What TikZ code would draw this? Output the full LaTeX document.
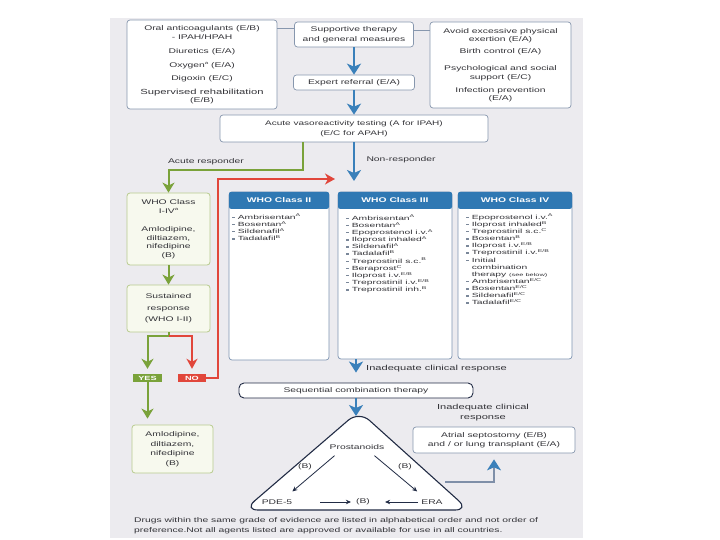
\documentclass[tikz,border=0pt]{standalone}
\usepackage{fontspec}
\setmainfont{Liberation Sans}[FakeStretch=1.52]
\newfontfamily\lstfont{Liberation Sans}[FakeStretch=1.72]
\usetikzlibrary{arrows.meta}
\definecolor{bg}{HTML}{ECEBEF}
\definecolor{bord}{HTML}{8797AE}
\definecolor{cbord}{HTML}{7F95B2}
\definecolor{hdrc}{HTML}{2F78B3}
\definecolor{blu}{HTML}{3A80BA}
\definecolor{sline}{HTML}{7F8FA8}
\definecolor{grn}{HTML}{7AA23A}
\definecolor{gbord}{HTML}{B8CB8E}
\definecolor{gfill}{HTML}{F7F9EE}
\definecolor{rd}{HTML}{E1463B}
\definecolor{navy}{HTML}{222C45}
\definecolor{txt}{HTML}{333338}
\definecolor{bul}{HTML}{7A8799}
\newcommand\fsz[2]{\fontsize{#1}{#2}\selectfont\lineskiplimit=-20pt\lineskip=0pt\relax}
\newcommand\blt{\textcolor{bul}{\rule[1.1pt]{2.6pt}{1.4pt}}\hspace{3pt}}
\newcommand\blth{\hphantom{\blt}}
\newcommand\sps[1]{\raisebox{2.2pt}{\fsz{4}{4}#1}}
\begin{document}
\begin{tikzpicture}[x=1pt,y=-1pt,
  every node/.style={inner sep=0pt, text=txt},
  box/.style={draw=bord, fill=white, line width=0.7pt, rounded corners=3pt, align=center, font=\fsz{6.8}{9.5}},
  cbox/.style={draw=cbord, fill=white, line width=0.7pt, rounded corners=3pt},
  hdr/.style={fill=hdrc, text=white, font=\fsz{6.8}{8}\bfseries, rounded corners=2pt},
  gbox/.style={draw=gbord, fill=gfill, line width=0.8pt, rounded corners=3pt, align=center, font=\fsz{6.8}{8.5}},
  lst/.style={align=left, font=\lstfont\fsz{6}{7.15}},
  seqbox/.style={draw=navy, fill=white, line width=0.9pt, rounded corners=5pt, font=\fsz{6.8}{8}},
  tag/.style={text=white, font=\fsz{6}{7}\bfseries},
  lbl/.style={font=\fsz{6.8}{9}},
  barrow/.style={draw=blu, line width=2.2pt, -{Stealth[length=11pt,width=14pt,inset=3pt]}},
  garrow/.style={draw=grn, line width=2pt, -{Stealth[length=10pt,width=12pt,inset=3pt]}},
  gline/.style={draw=grn, line width=2pt},
  rarrow/.style={draw=rd, line width=1.5pt, -{Stealth[length=10pt,width=11pt,inset=3pt]}},
  conn/.style={draw=bord, line width=0.8pt},
  tarrow/.style={draw=navy, line width=0.8pt, -{Stealth[length=5pt,width=4.5pt]}},
  sarrow/.style={draw=sline, line width=1.6pt, -{Stealth[length=11pt,width=14pt,inset=3pt,color=blu]}}
]
\useasboundingbox (0,0) rectangle (720,540);
\fill[white] (0,0) rectangle (720,540);
\fill[bg] (110,18) rectangle (583,538);

% top row
\node[box, minimum width=150, minimum height=89] (oral) at (202,64.5)
  {Oral anticoagulants (E/B)\\- IPAH/HPAH\\[4pt]Diuretics (E/A)\\[4.5pt]Oxygen\sps{a} (E/A)\\[3.5pt]Digoxin (E/C)\\[4.5pt]{\fsz{7.4}{9}Supervised rehabilitation}\\[-1pt](E/B)};
\node[box, minimum width=119, minimum height=25] (sup) at (354,34.5) {Supportive therapy\\and general measures};
\node[box, minimum width=141, minimum height=86, font=\fsz{6.8}{8.5}] (avoid) at (500.5,65)
  {Avoid excessive physical\\exertion (E/A)\\[3.5pt]Birth control (E/A)\\[8.5pt]Psychological and social\\support (E/C)\\[4.5pt]Infection prevention\\(E/A)};
\node[box, minimum width=121, minimum height=15] (exp) at (354,82.5) {Expert referral (E/A)};
\node[box, minimum width=268, minimum height=27, font=\fsz{6.6}{10}] (acute) at (354,128.5) {Acute vasoreactivity testing (A for IPAH)\\(E/C for APAH)};

\draw[conn] ([yshift=6pt]sup.west) -- ([yshift=6pt]sup.west -| oral.east);
\draw[conn] ([yshift=4.5pt]sup.east) -- ([yshift=4.5pt]sup.east -| avoid.west);
\draw[barrow] (sup.south) -- (exp.north);
\draw[barrow] (exp.south) -- (acute.north);

% left column
\node[gbox, minimum width=83, minimum height=72] (whoI) at (168.5,229)
  {WHO Class\\I-IV\sps{a}\\[10pt]Amlodipine,\\diltiazem,\\nifedipine\\(B)};
\node[gbox, minimum width=83, minimum height=47] (sus) at (168.5,308.5)
  {Sustained\\[3pt]response\\[3pt](WHO I-II)};
\node[gbox, minimum width=81, minimum height=48, font=\fsz{6.8}{9.5}] (amlo) at (172.5,449)
  {Amlodipine,\\diltiazem,\\nifedipine\\(B)};
\node[tag, fill=grn, minimum width=29, minimum height=8] (yes) at (147.5,378) {YES};
\node[tag, fill=rd, minimum width=28, minimum height=8] (no) at (192,378) {NO};

\node[lbl] (ar) at (206,162) {Acute responder};
\node[lbl] (nr) at (401,160) {Non-responder};

\coordinate (gturn) at (168.5,170);
\draw[garrow] ([xshift=-51pt]acute.south) |- (gturn) -- (whoI.north);
\coordinate (nrtip) at (354,181);
\draw[barrow] (acute.south) -- (nrtip);
\draw[garrow] (whoI.south) -- (sus.north);
\coordinate (split) at (168.5,336);
\draw[gline] (sus.south) -- (split);
\draw[rarrow, shorten >=5pt] (split) -| (no.north);
\draw[garrow, shorten >=5pt] (split) -| (yes.north);
\draw[garrow, shorten >=6pt] (yes.south) -- (yes.south |- amlo.north);
\coordinate (rcorner) at (218,179);
\coordinate (rtip) at (335,179);
\draw[rarrow] (no.east) -| (rcorner) -- (rtip);

% WHO class boxes
\node[cbox, minimum width=100, minimum height=168] (c2) at (279,276) {};
\node[cbox, minimum width=114, minimum height=167] (c3) at (395,275.5) {};
\node[cbox, minimum width=114, minimum height=167] (c4) at (515,275.5) {};
\node[hdr, minimum width=100, minimum height=17, anchor=north] (h2) at (c2.north) {WHO Class II};
\node[hdr, minimum width=114, minimum height=17, anchor=north] (h3) at (c3.north) {WHO Class III};
\node[hdr, minimum width=114, minimum height=17, anchor=north] (h4) at (c4.north) {WHO Class IV};

\node[lst, anchor=north west] (l2) at (232,214)
  {\blt Ambrisentan\sps{A}\\\blt Bosentan\sps{A}\\\blt Sildenafil\sps{A}\\\blt Tadalafil\sps{B}};
\node[lst, anchor=north west] (l3) at (346,215)
  {\blt Ambrisentan\sps{A}\\\blt Bosentan\sps{A}\\\blt Epoprostenol i.v.\sps{A}\\\blt Iloprost inhaled\sps{A}\\\blt Sildenafil\sps{A}\\\blt Tadalafil\sps{B}\\\blt Treprostinil s.c.\sps{B}\\\blt Beraprost\sps{C}\\\blt Iloprost i.v.\sps{E/B}\\\blt Treprostinil i.v.\sps{E/B}\\\blt Treprostinil inh.\sps{B}};
\node[lst, anchor=north west] (l4) at (466,214)
  {\blt Epoprostenol i.v.\sps{A}\\\blt Iloprost inhaled\sps{B}\\\blt Treprostinil s.c.\sps{C}\\\blt Bosentan\sps{B}\\\blt Iloprost i.v.\sps{E/B}\\\blt Treprostinil i.v.\sps{E/B}\\\blt Initial\\\blth combination\\\blth therapy {\fsz{4.3}{7}(see below)}\\\blt Ambrisentan\sps{E/C}\\\blt Bosentan\sps{E/C}\\\blt Sildenafil\sps{E/C}\\\blt Tadalafil\sps{E/C}};

% sequential
\node[seqbox, minimum width=234, minimum height=15] (seq) at (356,390.5) {Sequential combination therapy};
\node[lbl, font=\fsz{7.3}{9}, anchor=west] (inad1) at (366,369) {Inadequate clinical response};
\draw[barrow, shorten >=10pt] (c3.south -| seq.north) -- (seq.north);
\coordinate (apex) at (356,416);
\draw[barrow] (seq.south) -- (apex);

% triangle
\draw[navy, line width=1.1pt, fill=white, rounded corners=14pt] (359,411) -- (469,510) -- (244,510) -- cycle;
\node[lbl] (prost) at (357,447) {Prostanoids};
\node[lbl] (bl) at (305,467) {(B)};
\node[lbl] (br) at (405,467) {(B)};
\node[lbl] (pde) at (277,502) {PDE-5};
\node[lbl] (bc) at (363,502) {(B)};
\node[lbl] (era) at (432,502) {ERA};
\draw[tarrow] ([shift={(5,6)}]prost.south west) -- ([shift={(0,-8)}]pde.north east);
\draw[tarrow] ([shift={(-10,6)}]prost.south east) -- ([shift={(-4,-8)}]era.north west);
\draw[tarrow, shorten <=28pt, shorten >=5pt] (pde.east) -- (bc.west);
\draw[tarrow, shorten <=3pt, shorten >=15pt] (era.west) -- (bc.east);

% atrial
\node[box, minimum width=162, minimum height=26, font=\fsz{6.8}{9}] (atr) at (494,440) {Atrial septostomy (E/B)\\and / or lung transplant (E/A)};
\node[lbl, font=\fsz{7.3}{10}, align=center] (inad2) at (483,413) {Inadequate clinical\\response};
\coordinate (trR) at (445,482);
\draw[sarrow, shorten >=6pt] (trR) -| (atr.south);

% footnote
\node[lbl, anchor=north west, align=left, font=\fsz{6.8}{10}] (fn) at (134,517)
  {Drugs within the same grade of evidence are listed in alphabetical order and not order of\\preference.Not all agents listed are approved or available for use in all countries.};
\end{tikzpicture}
\end{document}
